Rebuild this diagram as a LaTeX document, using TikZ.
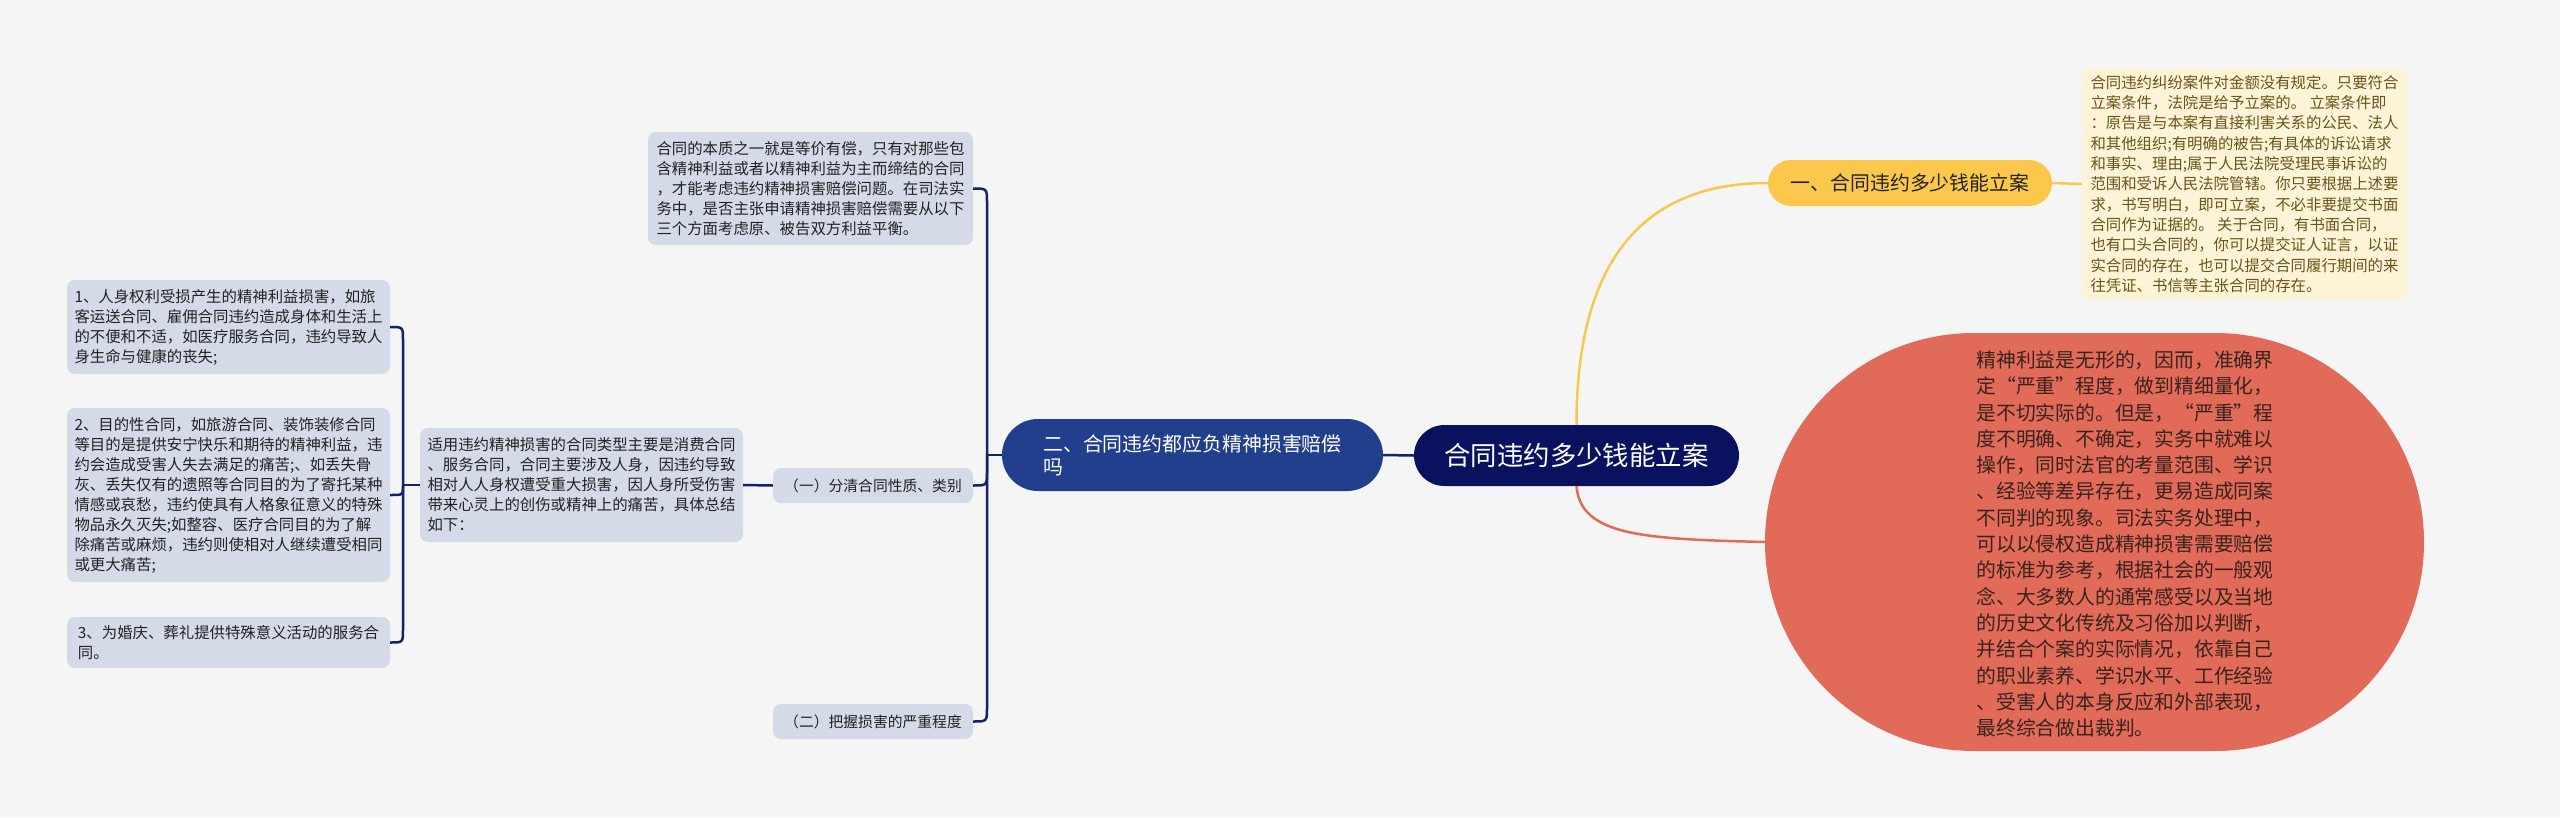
\documentclass[tikz,border=0pt]{standalone}
\usepackage{fontspec}
\setmainfont{Noto Sans CJK SC}
\usetikzlibrary{shapes.misc,calc}
\definecolor{bg}{RGB}{245,245,245}
\definecolor{boxc}{RGB}{212,218,232}
\definecolor{txt}{RGB}{34,34,34}
\definecolor{mainc}{RGB}{10,18,95}
\definecolor{bluec}{RGB}{33,63,140}
\definecolor{linec}{RGB}{20,35,105}
\definecolor{yelc}{RGB}{252,200,75}
\definecolor{ylinec}{RGB}{245,200,80}
\definecolor{creamc}{RGB}{253,243,215}
\definecolor{creamtxt}{RGB}{105,85,25}
\definecolor{redc}{RGB}{226,106,88}
\definecolor{redtxt}{RGB}{55,35,30}
\tikzset{
  box/.style={fill=boxc, rounded corners=8pt, inner sep=0pt, align=left, text=txt,
    font=\fontsize{15.4}{20}\selectfont, minimum width=323pt},
  smallbox/.style={fill=boxc, rounded corners=8pt, inner sep=0pt, align=center, text=txt,
    font=\fontsize{14.8}{18}\selectfont, minimum width=200pt, minimum height=35pt},
  pill/.style={rounded rectangle, inner sep=0pt},
  navyline/.style={draw=linec, line width=2.5pt},
  yline/.style={draw=ylinec, line width=2.5pt},
  rline/.style={draw=redc, line width=2.5pt},
}
\begin{document}
\begin{tikzpicture}[x=1pt,y=-1pt]
\path[fill=bg] (0,0) rectangle (2560,817);

% central
\node[pill, fill=mainc, text=white, minimum width=325pt, minimum height=61pt,
  font=\fontsize{26.4}{30}\selectfont] (m) at (1576.5,455.5) {合同违约多少钱能立案};

% branch two
\node[pill, fill=bluec, text=white, minimum width=381pt, minimum height=72pt, align=left,
  font=\fontsize{19.9}{23.3}\selectfont] (n2) at (1192.5,455) {二、合同违约都应负精神损害赔偿\\吗};

% branch one
\node[pill, fill=yelc, text=txt, minimum width=284pt, minimum height=46pt,
  font=\fontsize{19.9}{23}\selectfont] (y1) at (1910,183) {一、合同违约多少钱能立案};

\node[fill=creamc, rounded corners=6pt, inner sep=0pt, minimum width=325pt, minimum height=232pt,
  align=left, text=creamtxt, font=\fontsize{15.4}{20.3}\selectfont] (yt) at (2244.5,184)
{合同违约纠纷案件对金额没有规定。只要符合\\
立案条件，法院是给予立案的。 立案条件即\\
：原告是与本案有直接利害关系的公民、法人\\
和其他组织;有明确的被告;有具体的诉讼请求\\
和事实、理由;属于人民法院受理民事诉讼的\\
范围和受诉人民法院管辖。你只要根据上述要\\
求，书写明白，即可立案，不必非要提交书面\\
合同作为证据的。 关于合同，有书面合同，\\
也有口头合同的，你可以提交证人证言，以证\\
实合同的存在，也可以提交合同履行期间的来\\
往凭证、书信等主张合同的存在。};

% red connector drawn before shape
\draw[rline] (m.south) .. controls ($(m.south)+(4,50)$) and ($(1765,542)+(-120,-3)$) .. (1765,542);
\node[pill, fill=redc, minimum width=659pt, minimum height=418pt] (red) at (2094.5,542) {};
\node[align=left, inner sep=0pt, text=redtxt, font=\fontsize{19.8}{26.3}\selectfont] (redt) at (2125,544)
{精神利益是无形的，因而，准确界\\
定“严重”程度，做到精细量化，\\
是不切实际的。但是，“严重”程\\
度不明确、不确定，实务中就难以\\
操作，同时法官的考量范围、学识\\
、经验等差异存在，更易造成同案\\
不同判的现象。司法实务处理中，\\
可以以侵权造成精神损害需要赔偿\\
的标准为参考，根据社会的一般观\\
念、大多数人的通常感受以及当地\\
的历史文化传统及习俗加以判断，\\
并结合个案的实际情况，依靠自己\\
的职业素养、学识水平、工作经验\\
、受害人的本身反应和外部表现，\\
最终综合做出裁判。};

% children of branch two
\node[box, minimum width=325pt, minimum height=113pt] (c0) at (810.5,188.5)
{合同的本质之一就是等价有偿，只有对那些包\\
含精神利益或者以精神利益为主而缔结的合同\\
，才能考虑违约精神损害赔偿问题。在司法实\\
务中，是否主张申请精神损害赔偿需要从以下\\
三个方面考虑原、被告双方利益平衡。};
\node[smallbox] (c1) at (873,485.5) {（一）分清合同性质、类别};
\node[smallbox] (c2) at (873,721.5) {（二）把握损害的严重程度};

\node[box, minimum height=114pt] (s) at (581.5,485)
{适用违约精神损害的合同类型主要是消费合同\\
、服务合同，合同主要涉及人身，因违约导致\\
相对人人身权遭受重大损害，因人身所受伤害\\
带来心灵上的创伤或精神上的痛苦，具体总结\\
如下：};

\node[box, minimum height=94pt] (b1) at (228.5,327)
{1、人身权利受损产生的精神利益损害，如旅\\
客运送合同、雇佣合同违约造成身体和生活上\\
的不便和不适，如医疗服务合同，违约导致人\\
身生命与健康的丧失;};
\node[box, minimum height=174pt] (b2) at (228.5,495)
{2、目的性合同，如旅游合同、装饰装修合同\\
等目的是提供安宁快乐和期待的精神利益，违\\
约会造成受害人失去满足的痛苦;、如丢失骨\\
灰、丢失仅有的遗照等合同目的为了寄托某种\\
情感或哀愁，违约使具有人格象征意义的特殊\\
物品永久灭失;如整容、医疗合同目的为了解\\
除痛苦或麻烦，违约则使相对人继续遭受相同\\
或更大痛苦;};
\node[box, minimum height=51pt] (b3) at (228.5,642.5)
{3、为婚庆、葬礼提供特殊意义活动的服务合\\
同。};

% connectors
\draw[navyline] (m.west) -- (n2.east);
\draw[yline] (m.north) .. controls ($(m.north)+(0,-170)$) and ($(y1.west)+(-120,0)$) .. (y1.west);
\draw[yline] (y1.east) -- (yt.west);

\coordinate (t2) at (987,455);
\draw[navyline] (n2.west) -- (t2);
\draw[navyline] (t2) -- ($(t2|-c0.east)+(0,14)$) .. controls (t2|-c0.east) .. (c0.east);
\draw[navyline] (t2) -- ($(t2|-c1.east)+(0,-14)$) .. controls (t2|-c1.east) .. (c1.east);
\draw[navyline] (t2) -- ($(t2|-c2.east)+(0,-14)$) .. controls (t2|-c2.east) .. (c2.east);

\draw[navyline] (c1.west) -- (s.east);
\coordinate (t1) at (403,485);
\draw[navyline] (s.west) -- (t1);
\draw[navyline] (t1) -- ($(t1|-b1.east)+(0,13)$) .. controls (t1|-b1.east) .. (b1.east);
\draw[navyline] (t1) -- ($(t1|-b2.east)+(0,-8)$) .. controls (t1|-b2.east) .. (b2.east);
\draw[navyline] (t1) -- ($(t1|-b3.east)+(0,-13)$) .. controls (t1|-b3.east) .. (b3.east);
\end{tikzpicture}
\end{document}
